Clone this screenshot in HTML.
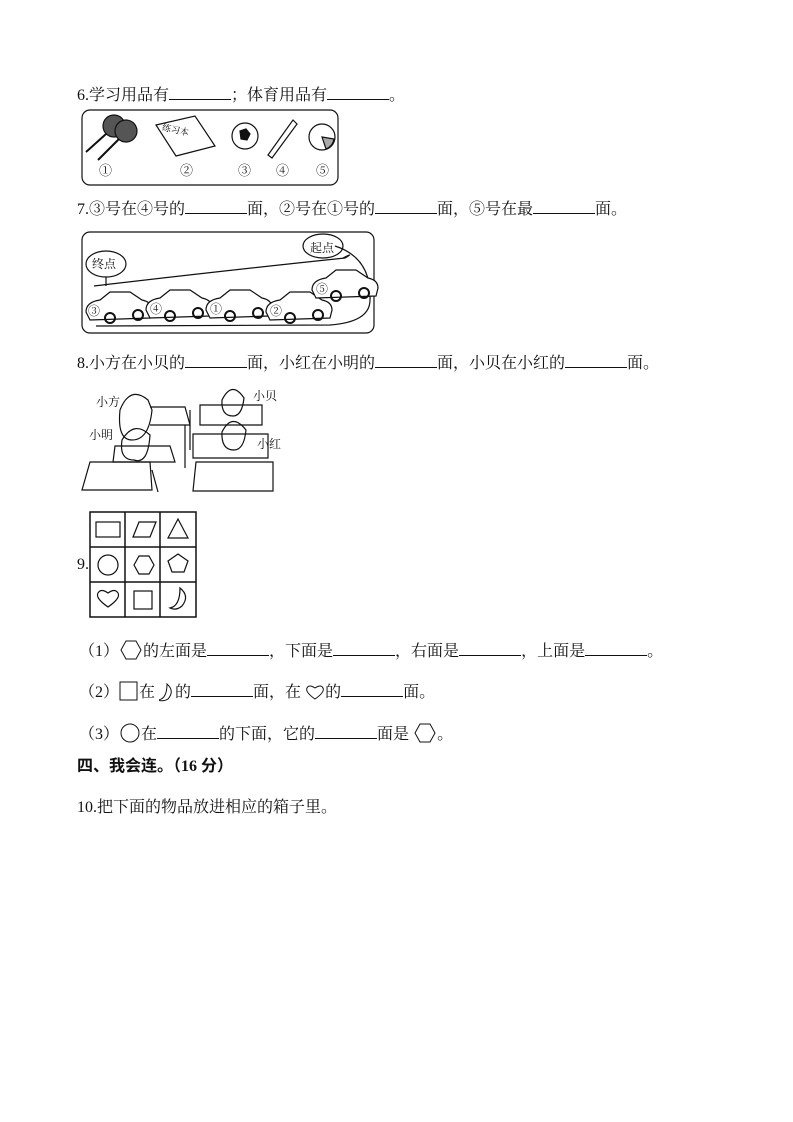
<!DOCTYPE html>
<html><head><meta charset="utf-8"><style>
body{margin:0;background:#fff;}
.p{position:relative;width:793px;height:1122px;overflow:hidden;font-family:"Liberation Serif","Noto Serif CJK SC",serif;font-size:16px;color:#111;}
.t{position:absolute;white-space:nowrap;line-height:18px;}
.b{display:inline-block;width:62px;border-bottom:1px solid #111;height:14px;}
.i{display:inline-block;vertical-align:-5px;}
.a{position:absolute;left:0;top:0;}
</style></head><body><div class="p">
<div class="t" style="left:77px;top:85px">6.学习用品有<span class="b"></span>；体育用品有<span class="b"></span>。</div>
<div class="t" style="left:77px;top:199px">7.③号在④号的<span class="b"></span>面，②号在①号的<span class="b"></span>面，⑤号在最<span class="b"></span>面。</div>
<div class="t" style="left:77px;top:353px">8.小方在小贝的<span class="b"></span>面，小红在小明的<span class="b"></span>面，小贝在小红的<span class="b"></span>面。</div>
<div class="t" style="left:77px;top:556px">9.</div>
<div class="t" style="left:79px;top:639px">（1）<svg class="i" width="24" height="22" fill="none" stroke="#111"><path d="M2 11 l5 -9 h10 l5 9 l-5 9 h-10 z"/></svg>的左面是<span class="b"></span>，下面是<span class="b"></span>，右面是<span class="b"></span>，上面是<span class="b"></span>。</div>
<div class="t" style="left:79px;top:680px">（2）<svg class="i" width="20" height="22" fill="none" stroke="#111"><rect x="1" y="2" width="17" height="18"/></svg>在 <svg class="i" width="16" height="20" fill="none" stroke="#111"><path d="M8 2 q8 7 1 15 q-5 3 -10 1 q9 -1 9 -16 z"/></svg>的<span class="b"></span>面，在 <svg class="i" width="20" height="20" fill="none" stroke="#111"><path d="M10 17 q-10 -7 -8 -11 q2 -4 8 0 q6 -4 8 0 q2 4 -8 11 z"/></svg>的<span class="b"></span>面。</div>
<div class="t" style="left:79px;top:722px">（3）<svg class="i" width="22" height="22" fill="none" stroke="#111"><circle cx="11" cy="11" r="9"/></svg>在<span class="b"></span>的下面，它的<span class="b"></span>面是 <svg class="i" width="24" height="22" fill="none" stroke="#111"><path d="M2 11 l5 -9 h10 l5 9 l-5 9 h-10 z"/></svg>。</div>
<div class="t" style="left:77px;top:758px;font-weight:bold;font-family:'Liberation Serif','Noto Sans CJK SC',sans-serif">四、我会连。（16 分）</div>
<div class="t" style="left:77px;top:799px">10.把下面的物品放进相应的箱子里。</div>
<div class="t" style="left:99px;top:162px;font-size:13px">①</div>
<div class="t" style="left:180px;top:162px;font-size:13px">②</div>
<div class="t" style="left:238px;top:162px;font-size:13px">③</div>
<div class="t" style="left:276px;top:162px;font-size:13px">④</div>
<div class="t" style="left:316px;top:162px;font-size:13px">⑤</div>
<div class="t" style="left:162px;top:121px;font-size:9px;transform:rotate(12deg)">练习本</div>
<div class="t" style="left:92px;top:255px;font-size:12px">终点</div>
<div class="t" style="left:310px;top:239px;font-size:12px">起点</div>
<div class="t" style="left:96px;top:393px;font-size:12px">小方</div>
<div class="t" style="left:89px;top:426px;font-size:12px">小明</div>
<div class="t" style="left:253px;top:387px;font-size:12px">小贝</div>
<div class="t" style="left:257px;top:435px;font-size:12px">小红</div>
<svg class="a" width="793" height="1122" fill="none" stroke="#111" stroke-width="1.2">
<rect x="82" y="110" width="256" height="75" rx="8"/>
<circle cx="114" cy="126" r="11" fill="#555"/><circle cx="126" cy="131" r="11" fill="#555"/>
<line x1="106" y1="134" x2="86" y2="152" stroke-width="2"/><line x1="119" y1="139" x2="98" y2="160" stroke-width="2"/>
<path d="M156 125 L195 116 L215 146 L176 156 Z"/>
<circle cx="245" cy="136" r="13"/><path d="M240 131 l6 -2 l4 5 l-3 6 l-6 -1 z" fill="#111"/>
<path d="M268 155 L293 120 L297 124 L272 158 Z"/>
<circle cx="322" cy="137" r="13"/><path d="M322 137 l12 2 a13 13 0 0 1 -8 10 z" fill="#aaa"/>
<rect x="82" y="232" width="292" height="101" rx="8"/>
<ellipse cx="106" cy="264" rx="20" ry="13"/><line x1="106" y1="277" x2="106" y2="286"/>
<ellipse cx="323" cy="246" rx="20" ry="12"/>
<path d="M94 286 Q230 270 345 258 Q355 252 343 258"/>
<path d="M335 246 Q372 258 370 300 Q370 322 330 325 L96 326"/>
<g fill="#fff">
<path d="M86 312 q0 -10 14 -12 l10 -8 l20 0 l12 8 q10 2 10 10 l-2 8 l-60 2 z"/>
<path d="M146 310 q0 -10 14 -12 l10 -8 l20 0 l12 8 q10 2 10 10 l-2 8 l-60 2 z"/>
<path d="M206 310 q0 -10 14 -12 l10 -8 l20 0 l12 8 q10 2 10 10 l-2 8 l-60 2 z"/>
<path d="M266 312 q0 -10 14 -12 l10 -8 l20 0 l12 8 q10 2 10 10 l-2 8 l-60 2 z"/>
<path d="M312 290 q0 -10 14 -12 l10 -8 l20 0 l12 8 q10 2 10 10 l-2 8 l-60 2 z"/>
</g>
<g stroke-width="2"><circle cx="110" cy="318" r="5"/><circle cx="138" cy="315" r="5"/><circle cx="170" cy="316" r="5"/><circle cx="198" cy="313" r="5"/><circle cx="230" cy="316" r="5"/><circle cx="258" cy="313" r="5"/><circle cx="290" cy="318" r="5"/><circle cx="318" cy="315" r="5"/><circle cx="336" cy="296" r="5"/><circle cx="364" cy="293" r="5"/></g>
<g font-size="12" fill="#111" stroke="none" font-family="Liberation Serif,Noto Serif CJK SC,serif"><text x="88" y="315">③</text><text x="150" y="313">④</text><text x="210" y="313">①</text><text x="270" y="315">②</text><text x="316" y="293">⑤</text></g>
<path d="M120 410 q10 -25 28 -10 l4 10 q-3 30 -20 30 q-15 0 -12 -30 z"/>
<path d="M150 407 L185 407 L190 425 L150 425"/><line x1="185" y1="425" x2="185" y2="468"/><line x1="190" y1="410" x2="190" y2="450"/>
<path d="M122 440 q12 -20 28 -5 q-2 30 -16 25 q-15 0 -12 -20 z"/>
<path d="M115 446 L170 446 L175 462 L113 462 Z"/>
<path d="M90 462 L150 462 L152 490 L82 490 Z"/><line x1="152" y1="470" x2="158" y2="492"/>
<path d="M200 405 L262 405 L262 425 L200 425 Z"/><path d="M222 400 q10 -20 22 -2 q-2 18 -11 18 q-12 0 -11 -16 z"/>
<path d="M193 434 L268 434 L268 458 L193 458 Z"/><path d="M222 432 q10 -20 24 -2 q-2 20 -12 20 q-13 0 -12 -18 z"/>
<path d="M196 462 L273 462 L273 491 L193 491 Z"/>
<g stroke-width="1.5"><rect x="90" y="512" width="106" height="105"/><line x1="125" y1="512" x2="125" y2="617"/><line x1="160" y1="512" x2="160" y2="617"/><line x1="90" y1="547" x2="196" y2="547"/><line x1="90" y1="582" x2="196" y2="582"/></g>
<rect x="96" y="522" width="24" height="15"/>
<path d="M133 537 L139 522 L156 522 L150 537 Z"/>
<path d="M168 538 L178 519 L188 538 Z"/>
<circle cx="108" cy="565" r="10"/>
<path d="M134 565 l5 -9 h10 l5 9 l-5 9 h-10 z"/>
<path d="M178 554 l10 7 l-4 11 h-12 l-4 -11 z"/>
<path d="M108 607 q-13 -9 -10 -14 q3 -5 10 0 q7 -5 10 0 q3 5 -10 14 z"/>
<rect x="134" y="591" width="18" height="18"/>
<path d="M180 588 q10 8 2 18 q-6 5 -12 2 q10 -2 10 -20 z"/>
</svg>
</div></body></html>
